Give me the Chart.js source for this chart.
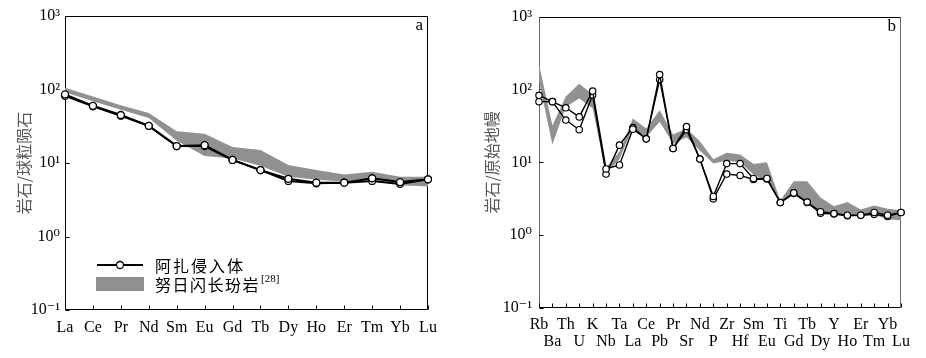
<!DOCTYPE html>
<html><head><meta charset="utf-8">
<script src="https://cdn.jsdelivr.net/npm/chart.js@4"></script>
<style>
html,body{margin:0;padding:0;background:#fff;}
#wrap{position:relative;width:926px;height:358px;overflow:hidden;}
.box{position:absolute;top:0;width:463px;height:358px;}
canvas{display:block;}
</style></head><body>
<div id="wrap">
<div class="box" style="left:0"><canvas id="ca" width="463" height="358"></canvas></div>
<div class="box" style="left:463px"><canvas id="cb" width="463" height="358"></canvas></div>
</div>
<script>
// ---- data ----
const reeElements = ['La','Ce','Pr','Nd','Sm','Eu','Gd','Tb','Dy','Ho','Er','Tm','Yb','Lu'];
const reeAza1 = [86, 60, 45, 32, 17, 17.5, 11, 8.0, 6.1, 5.4, 5.4, 6.2, 5.5, 6.0];
const reeAza2 = [82, 59, 44, 32, 17, 17, 11, 8.0, 5.7, 5.3, 5.4, 5.7, 5.2, 6.0];
const reeNuriUpper = [106, 80, 61, 48, 27, 25, 16.5, 15, 9.4, 8.0, 7.0, 7.6, 6.5, 6.5];
const reeNuriLower = [92, 69, 53, 41, 20, 12.5, 11.5, 9.2, 6.5, 5.9, 5.6, 5.9, 5.0, 4.8];

const spiderElements = ['Rb','Ba','Th','U','K','Nb','Ta','La','Ce','Pb','Pr','Sr','Nd','P','Zr','Hf','Sm','Eu','Ti','Gd','Tb','Dy','Y','Ho','Er','Tm','Yb','Lu'];
const spiderAza1 = [83, 68, 56, 42, 95, 8.1, 9.2, 28.5, 21, 160, 15.5, 31, 11.1, 3.4, 9.6, 9.6, 6.0, 6.0, 2.8, 3.8, 2.85, 2.1, 1.98, 1.88, 1.88, 2.05, 1.88, 2.05];
const spiderAza2 = [68, 68, 38, 28, 84, 6.9, 17.2, 30, 21, 137, 15.5, 28, 11.1, 3.15, 6.9, 6.6, 5.8, 5.9, 2.8, 3.75, 2.8, 2.0, 1.95, 1.85, 1.87, 1.93, 1.8, 2.05];
const spiderNuriUpper = [220, 32, 80, 120, 85, 8.5, 14, 40, 29, 52, 24, 29, 19.5, 11, 13.5, 12.8, 9.5, 10, 3.0, 5.5, 5.5, 3.3, 2.5, 2.85, 2.25, 2.55, 2.3, 2.2];
const spiderNuriLower = [130, 17.5, 58, 75, 55, 7.0, 11, 30, 22, 36, 18, 22, 14.5, 9.6, 10.5, 10, 6.8, 5.6, 2.7, 3.6, 3.0, 2.1, 1.95, 1.85, 1.85, 1.9, 1.65, 1.6];

const yDecades = [0.1, 1, 10, 100, 1000];
const yDecadeLabels = ['10\u207B\u00B9', '10\u2070', '10\u00B9', '10\u00B2', '10\u00B3'];

const legendLineLabel = '阿扎侵入体';
const legendBandLabel = '努日闪长玢岩';
const legendBandRef = '[28]';
const titleA = '岩石/球粒陨石';
const titleB = '岩石/原始地幔';

// ---- styles ----
const SERIF = '"Liberation Serif", "DejaVu Serif", serif';
const CJK = '"Noto Sans CJK SC", sans-serif';
const BAND = '#919191';

function decoPlugin(o){
  return {
    id: 'deco',
    beforeDatasetsDraw(chart){
      const {ctx, chartArea: a, scales} = chart;
      const x = scales.x, y = scales.y;
      const L = Math.round(a.left)+0.5, R = Math.round(a.right)-0.5, T = Math.round(a.top)+0.5, B = Math.round(a.bottom)-0.5;
      ctx.save();
      ctx.lineWidth = 1;
      ctx.strokeStyle = o.sideColor;
      ctx.beginPath(); ctx.moveTo(L, T); ctx.lineTo(L, B); ctx.moveTo(R, T); ctx.lineTo(R, B); ctx.stroke();
      ctx.strokeStyle = '#000';
      ctx.beginPath(); ctx.moveTo(L, T); ctx.lineTo(R, T); ctx.moveTo(L, B); ctx.lineTo(R, B); ctx.stroke();
      // inward ticks
      ctx.strokeStyle = '#000';
      ctx.beginPath();
      for (let i = 0; i < o.nCat; i++) {
        const px = Math.round(x.getPixelForValue(i)) + 0.5;
        ctx.moveTo(px, B); ctx.lineTo(px, B - 4);
      }
      yDecades.forEach(v => {
        const py = Math.round(y.getPixelForValue(v)) + 0.5;
        ctx.moveTo(L, py); ctx.lineTo(L + 4, py);
      });
      ctx.stroke();
      ctx.restore();
    },
    afterDraw(chart){
      const {ctx, chartArea: a} = chart;
      ctx.save();
      ctx.fillStyle = '#000';
      ctx.font = '17px ' + SERIF;
      ctx.textAlign = 'right';
      ctx.textBaseline = 'alphabetic';
      ctx.fillText(o.letter, a.right - 5, a.top + 14);
      if (o.legend) {
        // line sample
        ctx.strokeStyle = '#000';
        ctx.lineWidth = 1.8;
        ctx.beginPath(); ctx.moveTo(97, 265); ctx.lineTo(143, 265); ctx.stroke();
        ctx.fillStyle = '#fff'; ctx.lineWidth = 1.3;
        ctx.beginPath(); ctx.arc(120, 265, 3.5, 0, Math.PI*2); ctx.fill(); ctx.stroke();
        // band sample
        ctx.fillStyle = BAND;
        ctx.fillRect(96, 277, 48, 14);
        ctx.fillStyle = '#000';
        ctx.textAlign = 'left';
        ctx.textBaseline = 'middle';
        ctx.font = '16px ' + CJK;
        try { ctx.letterSpacing = '2px'; } catch(e) {}
        ctx.fillText(legendLineLabel, 155, 266);
        ctx.letterSpacing = '1.5px';
        ctx.fillText(legendBandLabel, 155, 285);
        const w = ctx.measureText(legendBandLabel).width;
        ctx.letterSpacing = '0px';
        ctx.font = '11px ' + SERIF;
        ctx.fillText(legendBandRef, 155 + w + 1, 279);
      }
      ctx.restore();
    }
  };
}

function makeChart(id, cats, s1, s2, up, lo, o){
  const lineDs = (data) => ({
    data, borderColor: '#000', borderWidth: o.lw, backgroundColor: '#fff',
    pointBackgroundColor: '#fff', pointBorderColor: '#000', pointBorderWidth: o.pbw,
    pointRadius: o.pr, pointHoverRadius: o.pr, tension: 0, fill: false, order: 0
  });
  return new Chart(document.getElementById(id), {
    type: 'line',
    data: {
      labels: cats,
      datasets: [
        lineDs(s1),
        lineDs(s2),
        {data: lo, borderWidth: 0, pointRadius: 0, borderColor: BAND, backgroundColor: BAND, fill: false, order: 1, tension: 0},
        {data: up, borderWidth: 0, pointRadius: 0, borderColor: BAND, backgroundColor: BAND, fill: '-1', order: 1, tension: 0}
      ]
    },
    options: {
      responsive: false, animation: false,
      layout: {padding: {left: 0, top: o.padTop, right: o.padRight, bottom: 0}},
      plugins: {legend: {display: false}, tooltip: {enabled: false}},
      scales: {
        x: {
          type: 'category', offset: false,
          grid: {display: false, drawTicks: false}, border: {display: false},
          ticks: {
            autoSkip: false, maxRotation: 0, minRotation: 0, padding: o.xPad, color: '#000',
            font: {family: SERIF, size: 16, lineHeight: o.xLH},
            callback: o.xCb
          },
          afterFit: (ax) => { ax.height = o.xH; }
        },
        y: {
          type: 'logarithmic', min: 0.1, max: 1000,
          grid: {display: false, drawTicks: false}, border: {display: false},
          afterBuildTicks: (ax) => { ax.ticks = yDecades.map(v => ({value: v})); },
          ticks: {
            padding: o.yPad, color: '#000', font: {family: SERIF, size: 16},
            callback: (v) => { const i = yDecades.indexOf(v); return i >= 0 ? yDecadeLabels[i] : ''; }
          },
          title: {display: true, text: o.title, color: '#555', font: {family: CJK, size: 16, lineHeight: 1.2}, padding: {top: o.titlePad, bottom: 0}},
          afterFit: (ax) => { ax.width = o.yW; }
        }
      }
    },
    plugins: [decoPlugin(o)]
  });
}

makeChart('ca', reeElements, reeAza1, reeAza2, reeNuriUpper, reeNuriLower, {
  lw: 2, pbw: 1.3, pr: 3.5, padTop: 16, padRight: 35, xH: 48, yW: 65, xPad: 8, xLH: 1.2,
  yPad: 5, titlePad: 14, title: titleA, nCat: reeElements.length, letter: 'a', legend: true,
  sideColor: '#000',
  xCb: (v, i) => reeElements[i]
});

makeChart('cb', spiderElements, spiderAza1, spiderAza2, spiderNuriUpper, spiderNuriLower, {
  lw: 1.4, pbw: 1.2, pr: 3.2, padTop: 15, padRight: 25, xH: 50, yW: 76, xPad: 8, xLH: 1.06,
  yPad: 7, titlePad: 19, title: titleB, nCat: spiderElements.length, letter: 'b', legend: false,
  sideColor: '#666',
  xCb: (v, i) => (i % 2 === 0 ? spiderElements[i] : ['', spiderElements[i]])
});
</script>
</body></html>
